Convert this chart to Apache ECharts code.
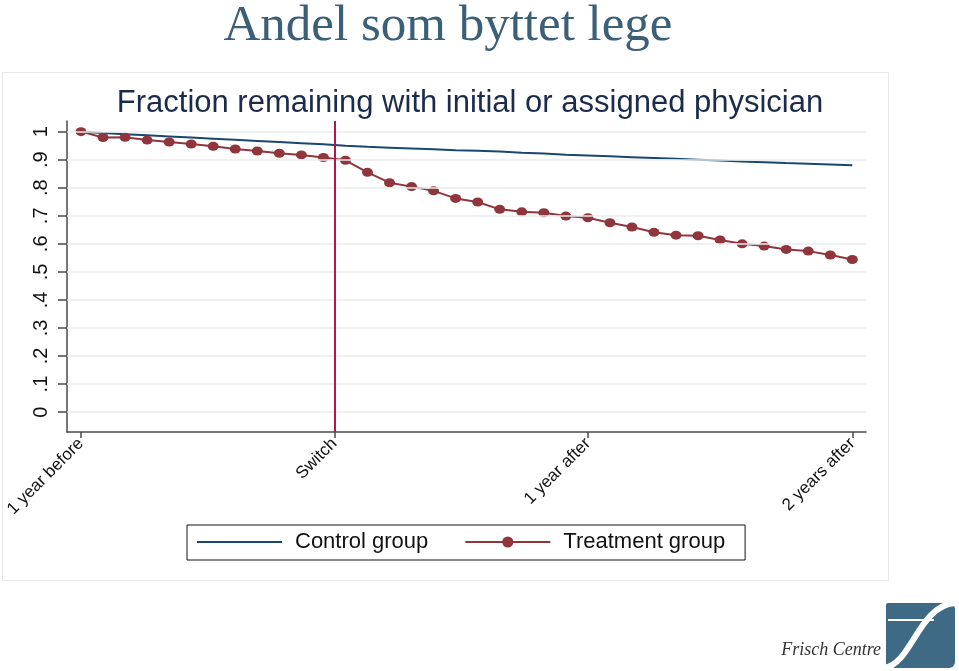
<!DOCTYPE html>
<html><head><meta charset="utf-8">
<script src="https://cdn.jsdelivr.net/npm/echarts@6/dist/echarts.min.js"></script>
<style>html,body{margin:0;padding:0;background:#fff}#c{width:959px;height:671px}</style>
</head><body><div id="c"></div>
<script>
// x positions: monthly periods, 0 = one year before the switch
const periods = [0,1,2,3,4,5,6,7,8,9,10,11,12,13,14,15,16,17,18,19,20,21,22,23,24,25,26,27,28,29,30,31,32,33,34,35];
const controlGroup = [1.000,0.995,0.991,0.987,0.983,0.979,0.975,0.971,0.967,0.963,0.959,0.955,0.950,0.946,0.943,0.940,0.937,0.934,0.932,0.929,0.925,0.922,0.918,0.915,0.912,0.909,0.906,0.903,0.900,0.897,0.894,0.891,0.888,0.886,0.883,0.880];
const treatmentGroup = [1.000,0.979,0.980,0.970,0.963,0.956,0.948,0.938,0.931,0.923,0.917,0.908,0.898,0.855,0.818,0.804,0.789,0.762,0.749,0.723,0.714,0.711,0.699,0.693,0.675,0.660,0.641,0.631,0.629,0.614,0.600,0.592,0.580,0.574,0.560,0.544];
const xTickValues = [0, 11.5, 23, 35];
const xTickLabels = ['1 year before', 'Switch', '1 year after', '2 years after'];
const yTickValues = [0, 0.1, 0.2, 0.3, 0.4, 0.5, 0.6, 0.7, 0.8, 0.9, 1];
const yTickLabels = ['0', '.1', '.2', '.3', '.4', '.5', '.6', '.7', '.8', '.9', '1'];
const switchPeriod = 11.5;
const seriesNames = ['Control group', 'Treatment group'];

const chart = echarts.init(document.getElementById('c'), null, {renderer: 'canvas'});
const nearestLabel = (vals, labels, v) => {
  let best = 0;
  for (let i = 1; i < vals.length; i++) if (Math.abs(vals[i] - v) < Math.abs(vals[best] - v)) best = i;
  return labels[best];
};
const option = {
  animation: false,
  backgroundColor: '#ffffff',
  grid: {left: 67, right: 93, top: 121, bottom: 239, containLabel: false},
  xAxis: {
    type: 'value', min: -0.635, max: 35.62,
    axisLine: {show: true, onZero: false, lineStyle: {color: '#4a4a4a', width: 1.5}},
    axisTick: {show: true, length: 6, customValues: xTickValues, lineStyle: {color: '#4a4a4a', width: 1.5}},
    axisLabel: {show: true, rotate: 45, margin: 9, fontSize: 17, color: '#111', fontFamily: 'Liberation Sans, Arial, sans-serif',
      customValues: xTickValues, formatter: v => nearestLabel(xTickValues, xTickLabels, v)},
    splitLine: {show: false}
  },
  yAxis: {
    type: 'value', min: -0.071, max: 1.038,
    axisLine: {show: true, onZero: false, lineStyle: {color: '#4a4a4a', width: 1.5}},
    axisTick: {show: true, length: 9, customValues: yTickValues, lineStyle: {color: '#4a4a4a', width: 1.5}},
    axisLabel: {show: true, rotate: 90, margin: 16, fontSize: 20, color: '#111', fontFamily: 'Liberation Sans, Arial, sans-serif',
      customValues: yTickValues, formatter: v => nearestLabel(yTickValues, yTickLabels, v)},
    splitLine: {show: false}
  },
  legend: {
    data: [{name: seriesNames[0], itemStyle: {opacity: 0}}, {name: seriesNames[1]}],
    left: 187, top: 525,
    orient: 'horizontal',
    padding: [6, 20, 7, 9],
    itemGap: 36,
    itemWidth: 85, itemHeight: 14,
    borderColor: '#111', borderWidth: 1,
    textStyle: {fontSize: 22, color: '#111', fontFamily: 'Liberation Sans, Arial, sans-serif', padding: [0, 0, 0, 8]}
  },
  series: [
    {
      name: 'grid', type: 'line', data: [], silent: true, z: 1,
      markLine: {silent: true, symbol: ['none', 'none'], label: {show: false}, animation: false,
        lineStyle: {color: '#e9edf0', width: 1.5, type: 'solid'},
        emphasis: {disabled: true},
        data: yTickValues.map(v => ({yAxis: v}))}
    },
    {
      name: 'switch', type: 'line', data: [], silent: true, z: 2,
      markLine: {silent: true, symbol: ['none', 'none'], label: {show: false}, animation: false,
        lineStyle: {color: '#b0174a', width: 2, type: 'solid'},
        emphasis: {disabled: true},
        data: [{xAxis: switchPeriod}]}
    },
    {
      name: seriesNames[0], type: 'line', z: 3,
      data: periods.map((p, i) => [p, controlGroup[i]]),
      symbol: 'none', showSymbol: false,
      lineStyle: {color: '#1a476f', width: 2},
      itemStyle: {color: '#1a476f'}
    },
    {
      name: seriesNames[1], type: 'line', z: 4,
      data: periods.map((p, i) => [p, treatmentGroup[i]]),
      symbol: 'circle', symbolSize: [11, 9], showSymbol: true,
      lineStyle: {color: '#90353b', width: 2},
      itemStyle: {color: '#90353b', borderWidth: 0}
    }
  ],
  graphic: [
    {type: 'rect', z: -1, silent: true, shape: {x: 2.5, y: 72.5, width: 886, height: 508},
      style: {fill: 'none', stroke: '#e6e9ec', lineWidth: 1}},
    {type: 'text', silent: true, x: 448, y: 27,
      style: {text: 'Andel som byttet lege', font: '51px "Liberation Serif", "Times New Roman", serif', fill: '#3c5f78', align: 'center', verticalAlign: 'middle'}},
    {type: 'text', silent: true, x: 470, y: 103,
      style: {text: 'Fraction remaining with initial or assigned physician', font: '31px "Liberation Sans", Arial, sans-serif', fill: '#1c2b4a', align: 'center', verticalAlign: 'middle'}},
    {type: 'text', silent: true, x: 881, y: 650,
      style: {text: 'Frisch Centre', font: 'italic 18px "Liberation Serif", "Times New Roman", serif', fill: '#333', align: 'right', verticalAlign: 'middle'}},
    {type: 'rect', silent: true, shape: {x: 886, y: 603, width: 69, height: 65, r: [2, 6, 6, 2]}, style: {fill: '#3f6a86'}},
    {type: 'bezierCurve', silent: true, shape: {x1: 884, y1: 668, cpx1: 912, cpy1: 664, cpx2: 918, cpy2: 606, x2: 955, y2: 603}, style: {stroke: '#fff', lineWidth: 6, fill: 'none'}},
    {type: 'line', silent: true, shape: {x1: 888, y1: 620, x2: 934, y2: 620}, style: {stroke: '#fff', lineWidth: 2}}
  ]
};
chart.setOption(option);
</script></body></html>
